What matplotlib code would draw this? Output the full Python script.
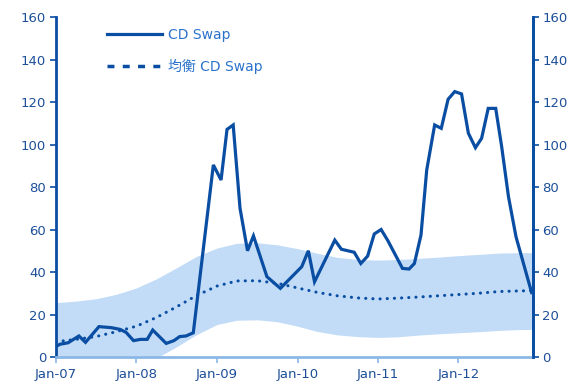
import numpy as np
import pandas as pd
import matplotlib
matplotlib.use('Agg')
import matplotlib.pyplot as plt
import matplotlib.dates as mdates
from matplotlib.lines import Line2D

plt.rcParams['font.family'] = ['DejaVu Sans', 'Noto Sans CJK JP']

# observed CD swap spread
swap_dates = ['2007-01-01', '2007-01-19', '2007-02-25', '2007-04-15', '2007-05-15',
              '2007-07-15', '2007-09-10', '2007-10-19', '2007-11-15', '2007-12-19',
              '2008-01-19', '2008-02-19', '2008-03-15', '2008-05-15', '2008-06-19',
              '2008-07-15', '2008-08-13', '2008-09-15', '2008-12-15', '2009-01-19',
              '2009-02-15', '2009-03-15', '2009-04-15', '2009-05-19', '2009-06-15',
              '2009-08-15', '2009-10-15', '2010-01-20', '2010-02-19', '2010-03-19',
              '2010-06-19', '2010-07-19', '2010-09-15', '2010-10-15', '2010-11-15',
              '2010-12-15', '2011-01-15', '2011-02-15', '2011-04-22', '2011-05-22',
              '2011-06-15', '2011-07-15', '2011-08-10', '2011-09-15', '2011-10-15',
              '2011-11-15', '2011-12-15', '2012-01-15', '2012-02-15', '2012-03-18',
              '2012-04-15', '2012-05-15', '2012-06-18', '2012-07-15', '2012-08-15',
              '2012-09-18', '2012-11-28']
swap_vals = [4.9, 6.0, 6.7, 9.9, 6.9,
             14.3, 13.8, 13.0, 11.6, 7.7,
             8.3, 8.3, 12.7, 6.4, 7.7,
             9.6, 9.9, 11.4, 90.4, 83.3,
             107.1, 109.2, 70.0, 50.0, 57.0,
             37.8, 32.3, 42.5, 50.0, 35.4,
             55.0, 50.7, 49.3, 44.0, 47.5,
             57.9, 60.0, 54.7, 41.7, 41.4,
             44.0, 57.4, 88.0, 109.2, 107.6,
             121.3, 124.9, 123.8, 105.3, 98.5,
             102.9, 117.0, 117.0, 99.0, 75.4,
             56.6, 30.3]

# equilibrium estimate and its band (quarterly)
eq_dates = ['2007-01-01', '2007-04-01', '2007-07-01', '2007-10-01', '2008-01-01',
            '2008-04-01', '2008-07-01', '2008-10-01', '2009-01-01', '2009-04-01',
            '2009-07-01', '2009-10-01', '2010-01-01', '2010-04-01', '2010-07-01',
            '2010-10-01', '2011-01-01', '2011-04-01', '2011-07-01', '2011-10-01',
            '2012-01-01', '2012-04-01', '2012-07-01', '2012-10-01', '2012-12-03']
eq_vals = [7.2, 8.3, 9.6, 11.9, 14.5, 18.6, 23.6, 29.0, 33.4, 35.8,
           35.9, 34.7, 32.5, 30.4, 28.8, 27.8, 27.3, 27.7, 28.2, 28.8,
           29.4, 30.0, 30.8, 31.1, 31.2]
eq_upper = [25.6, 26.3, 27.4, 29.5, 32.5, 36.8, 42.0, 47.4, 51.3, 53.5,
            53.8, 52.8, 51.0, 48.8, 46.9, 45.9, 45.6, 45.9, 46.4, 47.0,
            47.7, 48.3, 48.9, 49.1, 49.1]
eq_lower = [-11.0, -10.0, -8.5, -6.5, -4.2, -0.5, 4.8, 10.6, 15.3, 17.3,
            17.5, 16.6, 14.5, 12.0, 10.4, 9.6, 9.2, 9.5, 10.3, 10.9,
            11.4, 11.9, 12.5, 12.9, 13.0]

xticks = ['2007-01-01', '2008-01-01', '2009-01-01', '2010-01-01', '2011-01-01', '2012-01-01']
yticks = [0, 20, 40, 60, 80, 100, 120, 140, 160]

dark = '#0a4ea3'
band = '#c2dcf7'
label_col = '#1d4f98'
axis_light = '#8cb8e6'

sx = pd.to_datetime(swap_dates)
ex = pd.to_datetime(eq_dates)

fig = plt.figure(figsize=(5.77, 3.84), dpi=100)
ax = fig.add_axes([0.097, 0.0703, 0.8263, 0.8854])

ax.fill_between(ex, eq_lower, eq_upper, color=band, lw=0, zorder=1)
ax.plot(ex, eq_vals, color=dark, lw=2.2, linestyle=(0, (0.05, 2.3)),
        dash_capstyle='round', zorder=2)
ax.plot(sx, swap_vals, color=dark, lw=2.3, solid_joinstyle='miter', zorder=3)

ax.set_xlim(pd.Timestamp('2007-01-01'), pd.Timestamp('2012-12-03'))
ax.set_ylim(0, 160)
ax.set_yticks(yticks)
ax.set_xticks(pd.to_datetime(xticks))
ax.xaxis.set_major_formatter(mdates.DateFormatter('%b-%y'))

ax.spines['top'].set_visible(False)
ax.spines['left'].set_color(dark)
ax.spines['left'].set_linewidth(2)
ax.spines['right'].set_color(dark)
ax.spines['right'].set_linewidth(2)
ax.spines['bottom'].set_color(axis_light)
ax.spines['bottom'].set_linewidth(2)

ax.tick_params(axis='x', colors=axis_light, length=4, width=1.2, labelsize=9.5,
               labelcolor=label_col, pad=4)
ax.tick_params(axis='y', colors=dark, length=4, width=1.2, labelsize=9.5,
               labelcolor=label_col, pad=3)

ax2 = ax.twinx()
ax2.set_ylim(0, 160)
ax2.set_yticks(yticks)
for s in ['top', 'left', 'bottom']:
    ax2.spines[s].set_visible(False)
ax2.spines['right'].set_color(dark)
ax2.spines['right'].set_linewidth(2)
ax2.tick_params(axis='y', colors=dark, length=4, width=1.2, labelsize=9.5,
                labelcolor=label_col, pad=3)

handles = [Line2D([], [], color=dark, lw=2.3),
           Line2D([], [], color=dark, lw=2.5, linestyle=(0, (2.0, 2.4)))]
leg = ax.legend(handles, ['CD Swap', '均衡 CD Swap'], loc='upper left',
                bbox_to_anchor=(0.08, 1.005), frameon=False, fontsize=10,
                handlelength=4.0, handletextpad=0.45, labelspacing=1.25)
for t in leg.get_texts():
    t.set_color('#2a72cc')

fig.savefig('out.png', dpi=100)
